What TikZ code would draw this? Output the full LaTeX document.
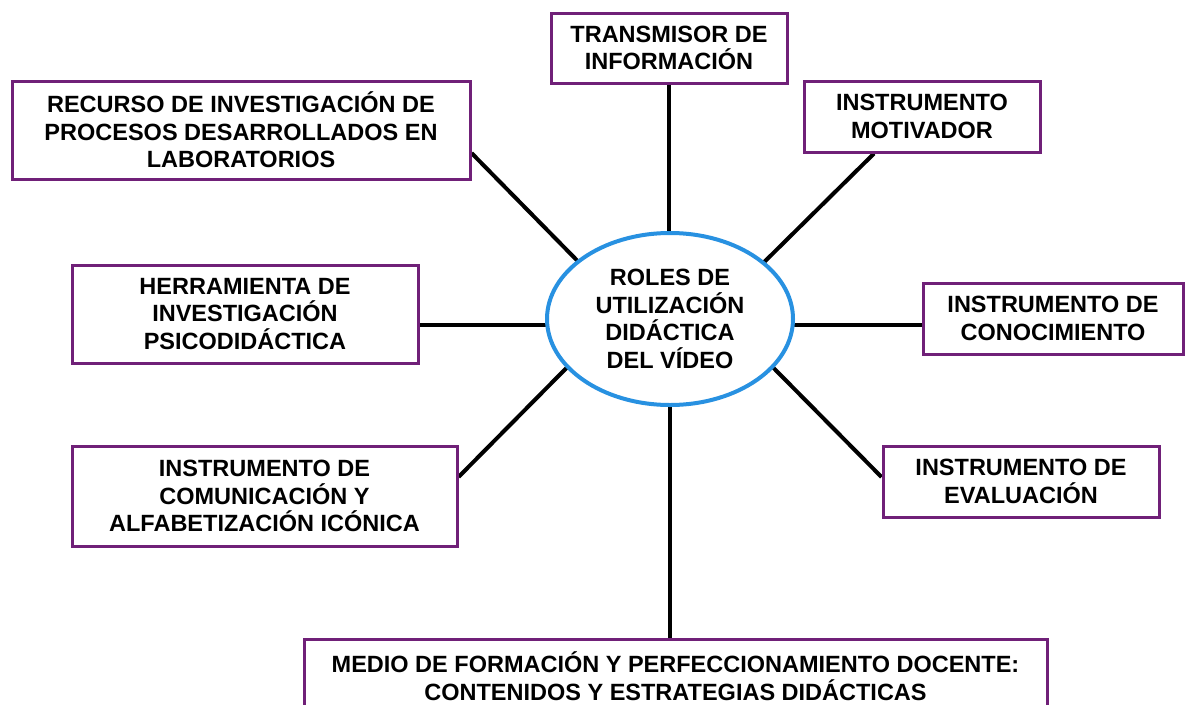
\documentclass[tikz,border=0pt]{standalone}
\usepackage{fontspec}
\setmainfont{Liberation Sans}
\usetikzlibrary{shapes.geometric,calc}
\definecolor{boxpurple}{RGB}{112,32,120}
\definecolor{ellblue}{RGB}{40,145,225}
\pgfdeclarelayer{bg}
\pgfsetlayers{bg,main}
\begin{document}
\begin{tikzpicture}[x=1pt,y=-1pt,
  role/.style={draw=boxpurple, line width=3pt, fill=white, align=center, inner sep=0pt,
               font=\fontsize{23.5pt}{27.5pt}\selectfont\bfseries},
  hub/.style={ellipse, draw=ellblue, line width=4pt, fill=white, align=center, inner sep=0pt, outer sep=0pt,
               font=\fontsize{23.5pt}{27.5pt}\selectfont\bfseries},
  conn/.style={line width=4pt, black}]
\useasboundingbox (0,0) rectangle (1185,704);
\clip (0,0) rectangle (1185,704);

\node[hub, minimum width=246pt, minimum height=172pt] (c) at (670,319) {ROLES DE\\UTILIZACIÓN\\DIDÁCTICA\\DEL VÍDEO};

\node[role, minimum width=236pt, minimum height=70pt] (t) at (669,48) {TRANSMISOR DE\\INFORMACIÓN};
\node[role, minimum width=458pt, minimum height=98pt] (r) at (241,130) {RECURSO DE INVESTIGACIÓN DE\\PROCESOS DESARROLLADOS EN\\LABORATORIOS};
\node[role, minimum width=346pt, minimum height=98pt] (h) at (245,314) {HERRAMIENTA DE\\INVESTIGACIÓN\\PSICODIDÁCTICA};
\node[role, minimum width=236pt, minimum height=71pt] (m) at (922,116.5) {INSTRUMENTO\\MOTIVADOR};
\node[role, minimum width=260pt, minimum height=71pt] (k) at (1053,318.5) {INSTRUMENTO DE\\CONOCIMIENTO};
\node[role, minimum width=276pt, minimum height=71pt] (e) at (1021,481.5) {INSTRUMENTO DE\\EVALUACIÓN};
\node[role, minimum width=385pt, minimum height=100pt] (cm) at (264.5,496) {INSTRUMENTO DE\\COMUNICACIÓN Y\\ALFABETIZACIÓN ICÓNICA};
\node[role, minimum width=743pt, minimum height=74pt] (md) at (675.5,676) {MEDIO DE FORMACIÓN Y PERFECCIONAMIENTO DOCENTE:\\CONTENIDOS Y ESTRATEGIAS DIDÁCTICAS};

\begin{pgfonlayer}{bg}
\draw[conn] (t.south) -- (t.south |- c.north);
\draw[conn] ([xshift=-48pt]m.south) -- (c.31.5);
\draw[conn] ([yshift=-6pt]c.east) -- ([yshift=-6pt]c.east -| k.west);
\draw[conn] ([yshift=4.5pt]e.west) -- (c.335);
\draw[conn] (c.south) -- (c.south |- md.north);
\draw[conn] ([yshift=19pt]cm.east) -- (c.205);
\draw[conn] ([yshift=-6pt]c.west) -- ([yshift=-6pt]c.west -| h.east);
\draw[conn] ([yshift=-23pt]r.east) -- (c.148);
\end{pgfonlayer}
\end{tikzpicture}
\end{document}
